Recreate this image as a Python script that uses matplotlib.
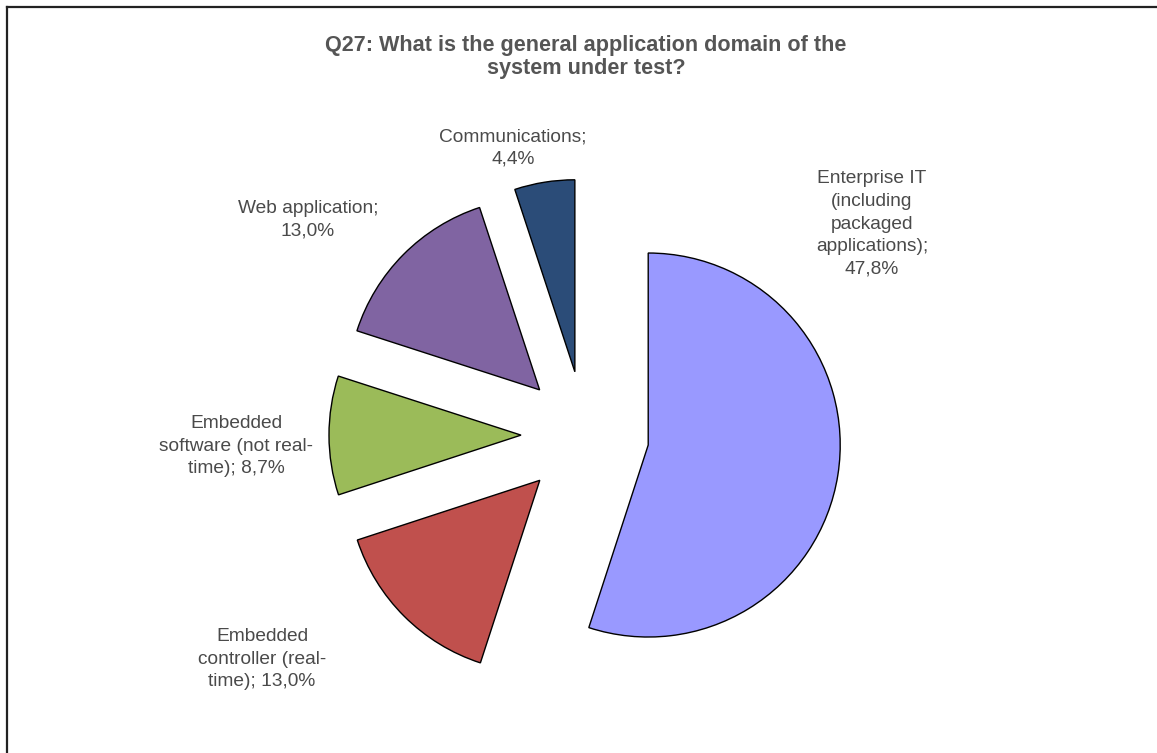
import matplotlib
matplotlib.use("Agg")
import matplotlib.pyplot as plt
from matplotlib.lines import Line2D

# survey answers, Q27
domains = ["Enterprise IT\n(including\npackaged\napplications);\n47,8%",
           "Embedded\ncontroller (real-\ntime); 13,0%",
           "Embedded\nsoftware (not real-\ntime); 8,7%",
           "Web application;\n13,0%",
           "Communications;\n4,4%"]
shares = [47.8, 13.0, 8.7, 13.0, 4.4]
colors = ["#9999FF", "#C0504D", "#9BBB59", "#8064A2", "#2B4C78"]

# label anchors (pixels from top-left)
label_pos = [(872, 224), (262, 659), (236, 446), (308, 220), (513, 148)]

W, H = 1157, 753
fig = plt.figure(figsize=(W / 100, H / 100), dpi=100)
ax = fig.add_axes([0, 0, 1, 1])

ax.pie(shares, colors=colors, startangle=90, counterclock=False,
       center=(585, H - 435), radius=192, explode=[64] * len(shares),
       wedgeprops=dict(edgecolor="black", linewidth=1.0), frame=True)
ax.set_xlim(0, W)
ax.set_ylim(0, H)
ax.set_aspect("equal")
ax.axis("off")

for txt, (px, py) in zip(domains, label_pos):
    ax.text(px, H - py, txt, ha="center", va="center", multialignment="center",
            fontsize=13.8, color="#4a4a4a", family="Liberation Sans",
            linespacing=1.43)

ax.text(586, H - 57, "Q27: What is the general application domain of the\nsystem under test?",
        ha="center", va="center", fontsize=15.6, fontweight="bold",
        color="#555555", family="Liberation Sans", linespacing=1.15)

# chart frame: only the top and left edges fall inside the picture
fig.add_artist(Line2D([6.5 / W, 1], [1 - 6.5 / H] * 2, transform=fig.transFigure,
                      color="#222222", lw=1.6))
fig.add_artist(Line2D([6.5 / W] * 2, [0, 1 - 6.5 / H], transform=fig.transFigure,
                      color="#222222", lw=1.6))

fig.savefig("out.png", dpi=100)
